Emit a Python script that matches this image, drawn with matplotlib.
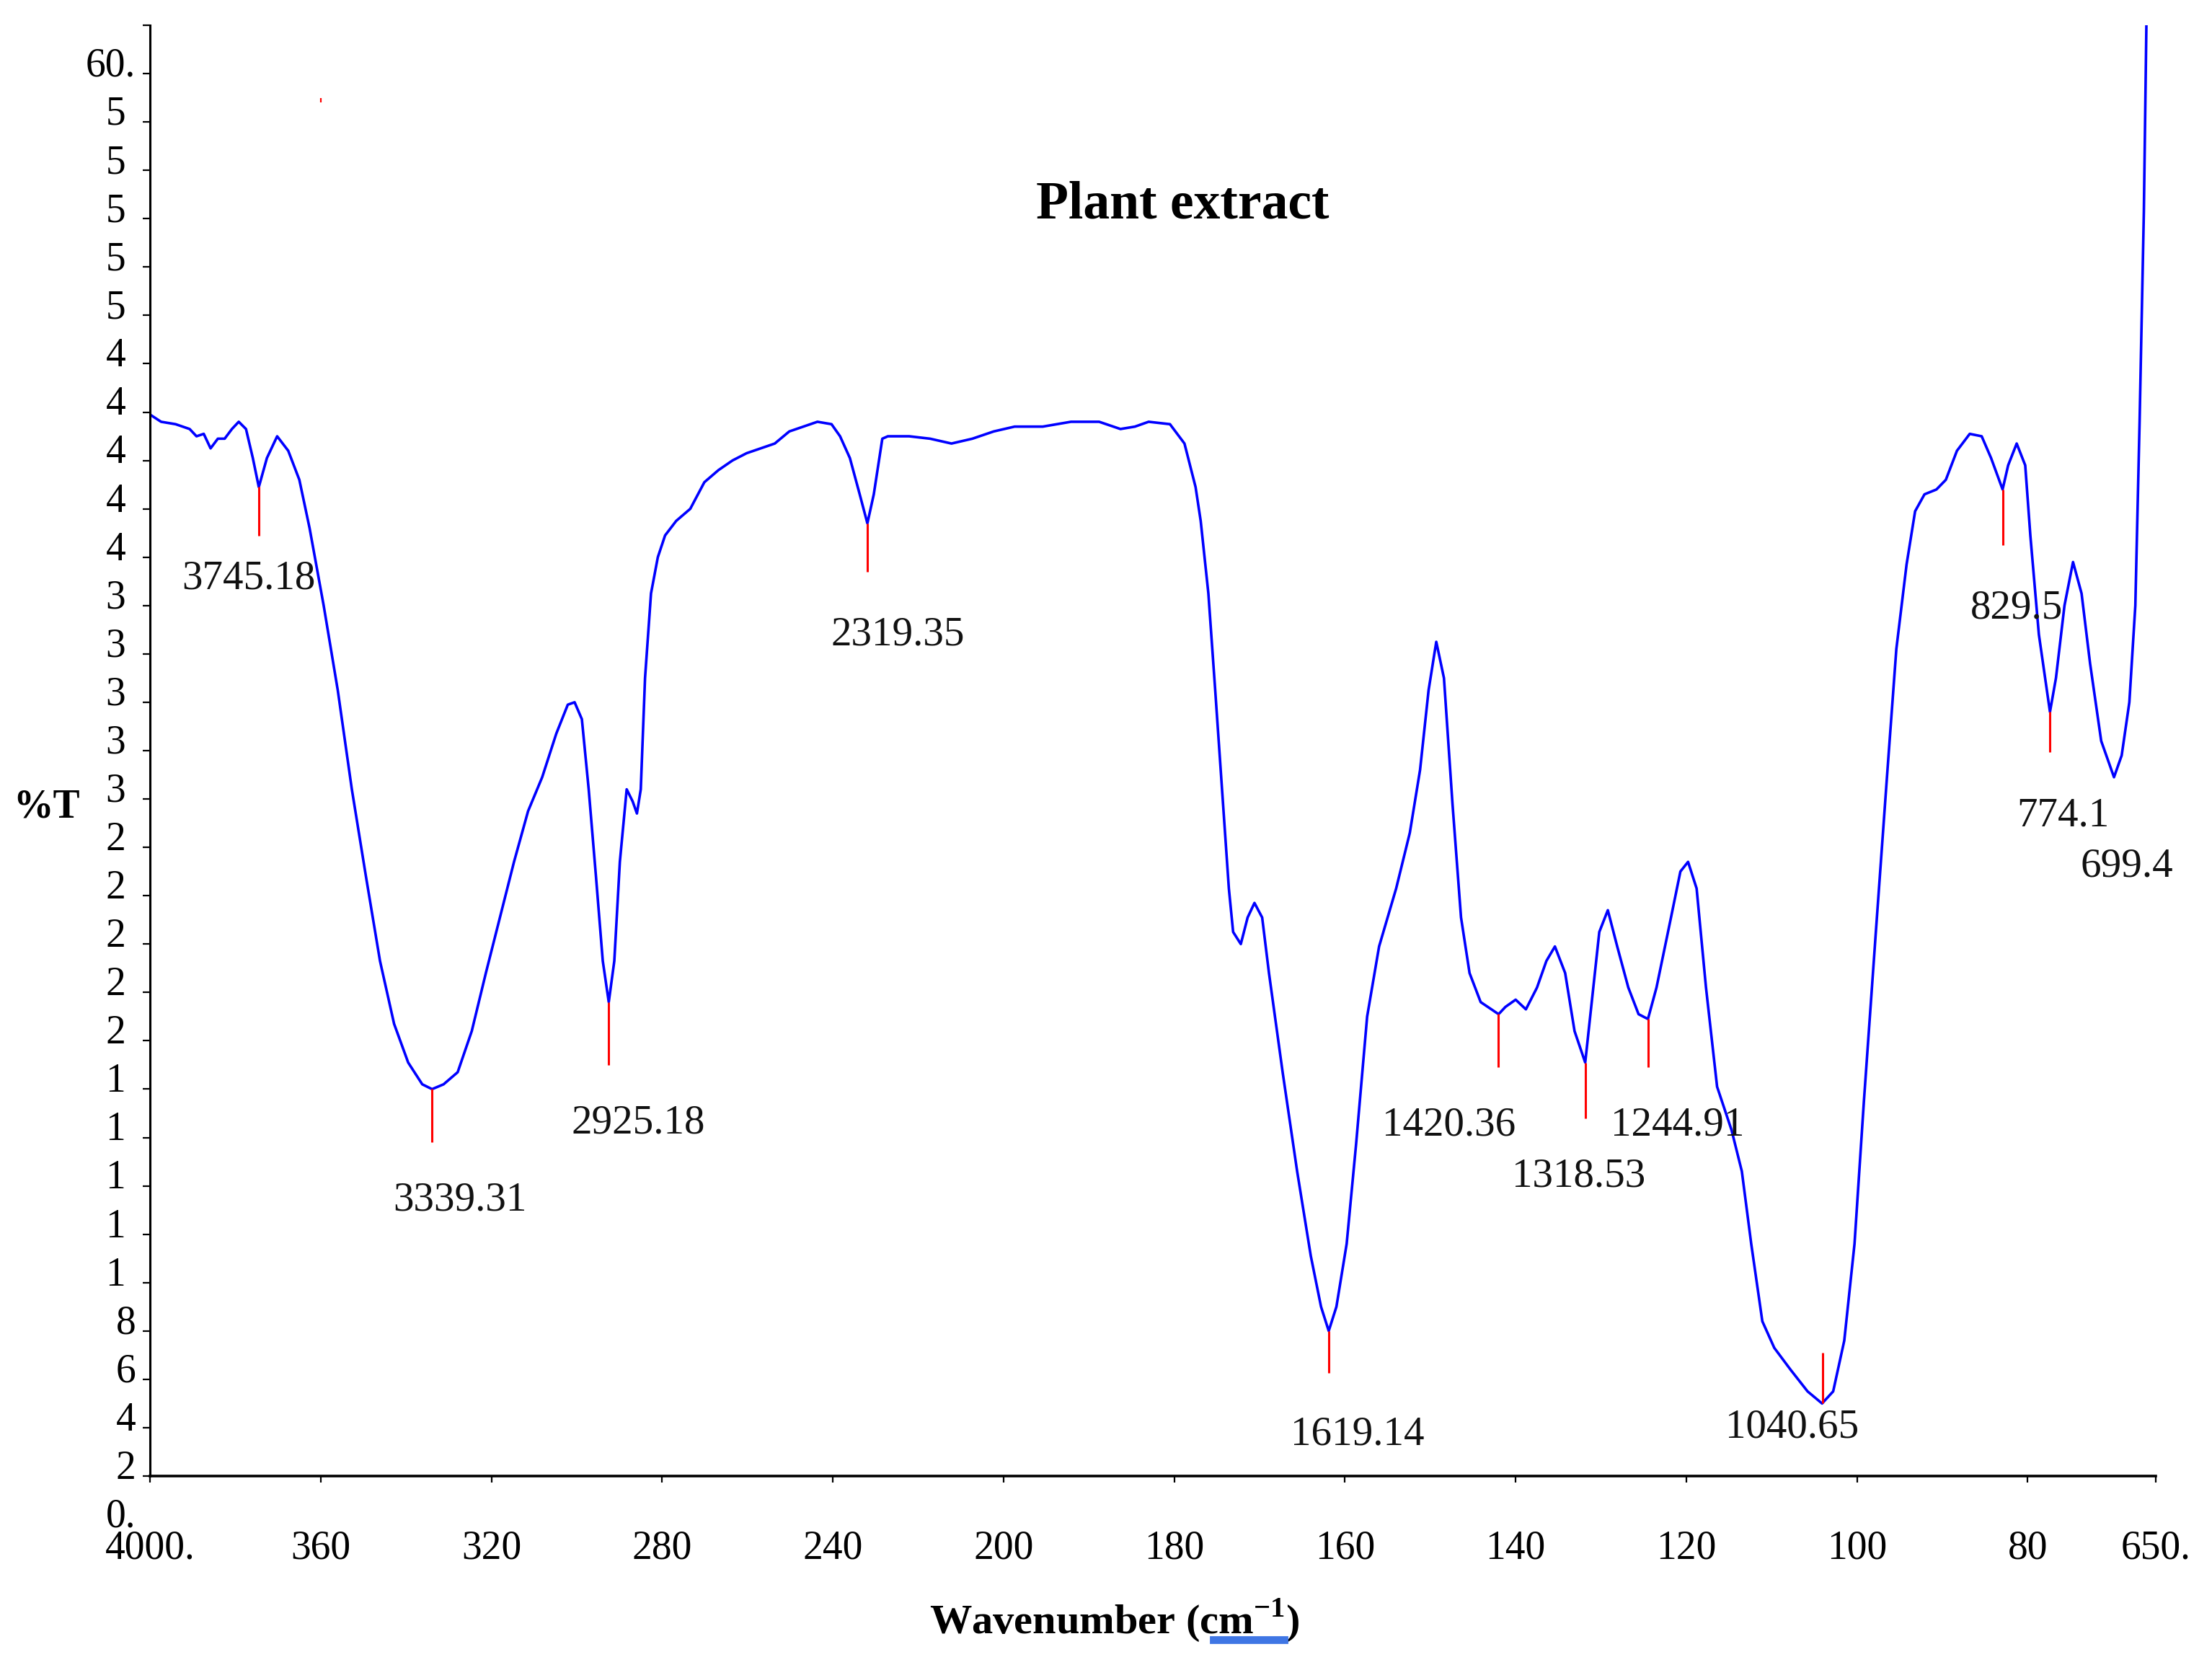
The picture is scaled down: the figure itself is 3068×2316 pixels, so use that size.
import numpy as np
import matplotlib
matplotlib.use('Agg')
import matplotlib.pyplot as plt
import matplotlib.transforms as mtransforms
from matplotlib.patches import Rectangle

plt.rcParams['font.family'] = ['Liberation Serif', 'DejaVu Serif']
plt.rcParams['mathtext.fontset'] = 'custom'
plt.rcParams['mathtext.rm'] = 'Liberation Serif'
plt.rcParams['mathtext.bf'] = 'Liberation Serif:bold'

# FTIR spectrum (wavenumber in cm-1, %T)
wavenumber = [4000, 3974, 3940, 3907, 3891, 3874, 3858, 3841, 3825, 3808,
              3792, 3775, 3759, 3745, 3726, 3702, 3676, 3650, 3626, 3593,
              3560, 3527, 3494, 3461, 3428, 3395, 3362, 3339, 3312, 3279,
              3246, 3213, 3180, 3147, 3114, 3081, 3048, 3021, 3005, 2988,
              2972, 2955, 2939, 2925, 2912, 2899, 2883, 2869, 2859, 2850,
              2840, 2826, 2810, 2793, 2767, 2734, 2701, 2668, 2635, 2602,
              2569, 2536, 2502, 2469, 2436, 2403, 2383, 2360, 2337, 2319,
              2304, 2284, 2271, 2221, 2172, 2122, 2073, 2023, 1987, 1954,
              1921, 1888, 1863, 1846, 1830, 1805, 1788, 1775, 1769, 1760,
              1752, 1744, 1736, 1731, 1722, 1714, 1706, 1697, 1689, 1673,
              1656, 1640, 1628, 1619, 1610, 1598, 1587, 1574, 1560, 1540,
              1524, 1512, 1502, 1493, 1484, 1474, 1464, 1454, 1441, 1420,
              1412, 1400, 1388, 1375, 1364, 1354, 1342, 1331, 1318.5, 1309,
              1302, 1292, 1281, 1268, 1256, 1245, 1235, 1218, 1207, 1198,
              1188, 1177, 1164, 1147, 1135, 1124, 1111, 1097, 1078, 1058,
              1041, 1028, 1015, 1003, 992, 978, 965, 954, 942, 932,
              921, 907, 896, 883, 868, 854, 843, 829.5, 823, 813,
              803, 797, 787, 774, 767, 757, 747, 737, 727, 714,
              699, 690, 681, 674, 669, 664, 661]
transmittance = [45.9, 45.6, 45.5, 45.3, 45.0, 45.1, 44.5, 44.9, 44.9, 45.3,
                 45.6, 45.3, 44.1, 42.9, 44.1, 45.0, 44.4, 43.2, 41.2, 38.0,
                 34.5, 30.4, 26.8, 23.3, 20.7, 19.1, 18.2, 18.0, 18.2, 18.7,
                 20.4, 22.8, 25.1, 27.4, 29.5, 30.9, 32.7, 33.9, 34.0, 33.3,
                 30.4, 26.8, 23.3, 21.6, 23.3, 27.4, 30.4, 29.9, 29.4, 30.4,
                 35.0, 38.5, 40.0, 40.9, 41.5, 42.0, 43.1, 43.6, 44.0, 44.3,
                 44.5, 44.7, 45.2, 45.4, 45.6, 45.5, 45.0, 44.1, 42.6, 41.4,
                 42.6, 44.9, 45.0, 45.0, 44.9, 44.7, 44.9, 45.2, 45.4, 45.4,
                 45.6, 45.6, 45.3, 45.4, 45.6, 45.5, 44.7, 42.9, 41.5, 38.5,
                 34.5, 30.4, 26.3, 24.5, 24.0, 25.1, 25.7, 25.1, 22.8, 18.7,
                 14.6, 11.1, 9.0, 8.0, 9.0, 11.6, 15.7, 21.0, 23.9, 26.3,
                 28.6, 31.2, 34.5, 36.5, 35.0, 29.8, 25.1, 22.8, 21.6, 21.1,
                 21.4, 21.7, 21.3, 22.2, 23.3, 23.9, 22.8, 20.4, 19.1, 22.2,
                 24.5, 25.4, 23.9, 22.2, 21.1, 20.9, 22.2, 25.1, 27.0, 27.4,
                 26.3, 22.2, 18.1, 16.3, 14.6, 11.6, 8.4, 7.3, 6.4, 5.5,
                 5.0, 5.5, 7.6, 11.6, 17.5, 24.5, 30.9, 36.2, 39.7, 41.9,
                 42.6, 42.8, 43.2, 44.4, 45.1, 45.0, 44.1, 42.8, 43.8, 44.7,
                 43.8, 40.9, 36.8, 33.6, 35.0, 38.0, 39.8, 38.5, 35.6, 32.4,
                 30.9, 31.8, 34.0, 38.0, 45.6, 54.3, 62.1]

# picked peaks
peak_wn = [3745.18, 3339.31, 2925.18, 2319.35, 1619.14, 1420.36, 1318.53,
           1244.91, 1040.65, 829.5, 774.1, 699.4]
peak_T = [42.9, 18.0, 21.6, 41.4, 8.0, 21.1, 19.1, 20.9, 5.0, 42.8, 33.6, 30.9]
peak_mark = [-2.0, -2.2, -2.6, -2.0, -1.75, -2.2, -2.3, -2.0, 2.1, -2.3, -1.65, 0]
peak_text = ['3745.18', '3339.31', '2925.18', '2319.35', '1619.14', '1420.36',
             '1318.53', '1244.91', '1040.65', '829.5', '774.1', '699.4']
label_wn = [3769, 3273, 2856, 2248, 1585, 1478, 1326, 1210, 1076, 813, 759, 684]
label_T = [39.1, 13.4, 16.6, 36.8, 3.7, 16.5, 14.4, 16.5, 4.0, 37.9, 29.3, 27.2]

# stray red speck near the top
speck_wn = [3600]
speck_T = [58.9]

xticks = [4000, 3600, 3200, 2800, 2400, 2000, 1800, 1600, 1400, 1200, 1000, 800, 650]
xticklabels = ['4000.', '360', '320', '280', '240', '200', '180', '160', '140',
               '120', '100', '80', '650.']
yticks = list(range(0, 64, 2))
yticklabels = (['0.', '2', '4', '6', '8'] + ['1 '] * 5 + ['2 '] * 5 + ['3 '] * 5
               + ['4 '] * 5 + ['5 '] * 5 + ['60.', ''])


def fwd(x):
    x = np.asarray(x, float)
    return np.where(x > 2000, 2000 + (x - 2000) / 2, x)


def inv(t):
    t = np.asarray(t, float)
    return np.where(t > 2000, 2000 + (t - 2000) * 2, t)


fig = plt.figure(figsize=(15.34, 11.58), dpi=200)
ax = fig.add_axes([0.0678, 0.0872, 0.9068, 0.8977])
ax.set_xscale('function', functions=(fwd, inv))

ax.plot(wavenumber, transmittance, color='#0000ff', lw=1.3,
        solid_joinstyle='round', solid_capstyle='round')

wn = np.array(peak_wn)
pt = np.array(peak_T)
pm = np.array(peak_mark)
has = pm != 0
ax.vlines(wn[has], pt[has], pt[has] + pm[has], color='#ff0000', lw=1.1)
ax.vlines(speck_wn, np.array(speck_T) - 0.1, np.array(speck_T) + 0.1,
          color='#ff0000', lw=0.8)

for s, x, y in zip(peak_text, label_wn, label_T):
    ax.text(x, y, s, fontsize=20.5, ha='center', va='center', color='#111111')

ax.set_xlim(4000, 650)
ax.set_ylim(0, 62)

ax.spines['top'].set_visible(False)
ax.spines['right'].set_visible(False)
ax.spines['bottom'].set_position(('data', 2))
ax.spines['left'].set_bounds(2, 62)
ax.spines['left'].set_linewidth(1.1)
ax.spines['bottom'].set_linewidth(1.3)

ax.set_xticks(xticks)
ax.set_xticklabels(xticklabels, fontsize=20)
ax.set_yticks(yticks)
ax.set_yticklabels(yticklabels, fontsize=20)
ax.xaxis.set_minor_locator(plt.NullLocator())
ax.tick_params(axis='x', direction='out', length=3.3, width=0.8, pad=23.5)
ax.tick_params(axis='y', direction='out', length=3.6, width=0.8, pad=3.5)
ax.yaxis.get_major_ticks()[0].tick1line.set_visible(False)

shift = mtransforms.ScaledTranslation(0, 5.8 / 72, fig.dpi_scale_trans)
for lab in ax.get_yticklabels():
    lab.set_transform(lab.get_transform() + shift)

ax.text(0.5148, 0.880, 'Plant extract', transform=ax.transAxes, fontsize=26.5,
        fontweight='bold', ha='center', va='center')
ax.text(-0.0514, 0.4786, '%T', transform=ax.transAxes, fontsize=20,
        fontweight='bold', ha='center', va='center')
ax.text(0.481, -0.064, r'Wavenumber (cm$^{\mathbf{-1}}$)', transform=ax.transAxes,
        fontsize=21, fontweight='bold', ha='center', va='center')

# blue highlight under "cm"
fig.patches.append(Rectangle((0.5473, 0.0164), 0.0345, 0.0035,
                             transform=fig.transFigure, color='#3f76e4'))

fig.savefig('out.png', dpi=200)
